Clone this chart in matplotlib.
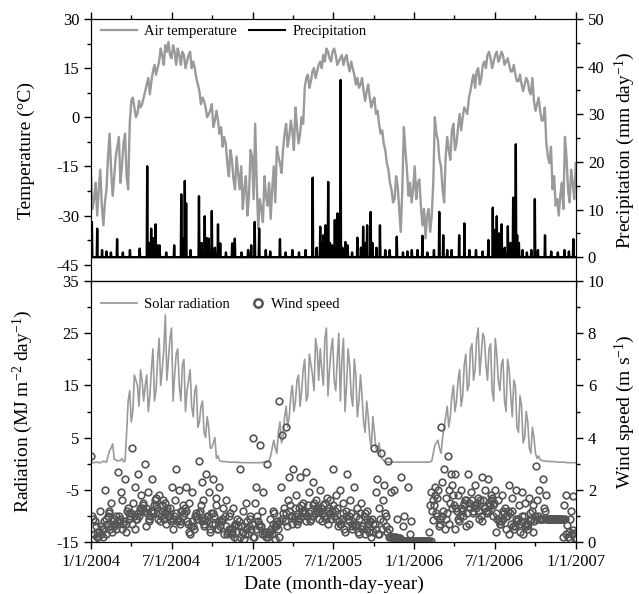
import numpy as np
import matplotlib
matplotlib.use('Agg')
import matplotlib.pyplot as plt
import matplotlib.dates as mdates
from matplotlib.ticker import FuncFormatter
from matplotlib.lines import Line2D

plt.rcParams['font.family'] = 'Liberation Serif'
plt.rcParams['mathtext.default'] = 'regular'
plt.rcParams['axes.unicode_minus'] = False

# ---- data ----
# air temperature (deg C): one reading at the start of each week (week 0 = 1/1/2004)
temp_2004 = [-18, -25, -30, -16, -33, -22, -5, -24, -12, -6, -15, -5, -22,
             5, 3, 1, 3, 6, 10, 7, 14, 13, 17, 19, 22, 23,
             18, 20, 21, 16, 19, 17, 20, 17, 12, 8, 6, 3, 1,
             4, -1, -1, -3, -6, -14, -10, -19, -12, -22, -28, -18, -24, -12]
temp_2005 = [-2, -34, -28, -18, -27, -31, -15, -9, -14, -10, -2, -6, -4,
             3, -8, 0, 9, 13, 11, 15, 14, 17, 19, 21, 18, 20,
             19, 17, 19, 18, 16, 17, 13, 12, 10, 8, 8, 6, 5,
             1, -2, -4, -10, -16, -22, -25, -21, -35, -3, -16]
temp_2006 = [-20, -22, -25, -19, -33, -37, -28, -30, 0, -7,
             -15, -26, -6, -13, -2, -8, 1, 0, 2, 6,
             11, 9, 15, 12, 17, 19, 18, 17, 20, 18,
             19, 17, 16, 14, 13, 11, 10, 10, 11, 7,
             5, 4, 2, -1, -8, -14, -22, -27, -30, -20,
             -6, -22, -16, -25]
# ... and one reading in the middle of each week
temp_mid_2004 = [-28, -20, -22, -27, -26, -12, -16, -18, -9, -20,
                 -8, -18, -2, 6, 0, 5, 4, 8, 12, 11,
                 16, 15, 21, 16, 20, 19, 22, 16, 19, 20,
                 15, 19, 15, 15, 10, 4, 5, 0, 2, -3,
                 2, -5, -9, -8, -18, -13, -22, -17, -15, -22,
                 -30, -10, -25]
temp_mid_2005 = [-20, -25, -32, -24, -20, -22, -26, -12, -17, -5,
                 -9, -1, -10, -3, -5, -2, 12, 9, 14, 12,
                 16, 15, 17, 20, 17, 21, 16, 18, 16, 19,
                 14, 15, 10, 9, 12, 5, 10, 3, 6, 2,
                 -5, -8, -14, -20, -26, -18, -28, -22, -10, -24]
temp_mid_2006 = [-26, -15, -20, -27, -28, -30, -35, -20, -5, -13,
                 -22, -12, -10, -4, -10, -3, -4, 3, 1, 8,
                 13, 14, 10, 16, 15, 20, 15, 19, 17, 20,
                 16, 18, 14, 16, 11, 13, 8, 12, 8, 12,
                 2, 6, -1, 3, -12, -9, -18, -25, -24, -28,
                 -12, -26, -20, -14]

# solar radiation (MJ m-2 day-1), start and middle of each week
rad_2004 = [0.3, 0.2, 0.3, 0.2, 0.5, 0.3, 2.5, 3.8, 0.8, 0.6, 1.0, 0.5,
            12, 8, 17, 15, 18, 12, 17, 13, 22, 14, 24, 18, 28.5, 20, 26, 17,
            22, 12, 20, 14, 18, 9, 15, 8, 12, 5, 7, 3, 5, 1.5, 0.5,
            0.4, 0.4, 0.3, 0.3, 0.3, 0.3, 0.2, 0.2, 0.2, 0.2]
rad_2005 = [0.2, 0.2, 0.2, 0.3, 0.4,
            1.5, 4.5, 2, 8, 5, 11, 9, 15, 12, 17, 14, 20, 13, 19, 14, 22,
            22, 15, 26, 18, 24, 14, 25, 20, 10, 22, 13, 20, 9, 17, 8, 12,
            5, 9, 3, 4, 1, 0.4,
            0.3, 0.3, 0.3, 0.3, 0.3, 0.3, 0.3, 0.3, 0.3, 0.3]
rad_2006 = [0.3, 0.3, 0.3, 0.3,
            0.5, 3.5, 4.5, 2, 7, 11, 9, 15, 12, 18, 13, 21, 15, 23, 18,
            26, 21, 24, 16, 23, 12, 21, 14, 20, 10, 18, 9, 15, 6, 11,
            5, 8, 2, 5, 1, 0.8, 0.6,
            0.5, 0.5, 0.4, 0.4, 0.3, 0.3, 0.3, 0.2, 0.2, 0.2]
rad_mid_2004 = [0.2, 0.3, 0.2, 0.3, 0.4, 1.5, 3.0, 0.8, 0.5, 0.6, 0.4, 6,
                14, 10, 16, 11, 16, 15, 10, 18, 12, 20, 15, 22, 16, 24, 12, 21,
                15, 19, 10, 16, 11, 14, 7, 11, 6, 9, 3, 4, 1, 0.6, 0.4,
                0.4, 0.3, 0.3, 0.3, 0.2, 0.2, 0.2, 0.2, 0.2, 0.2]
rad_mid_2005 = [0.2, 0.2, 0.3, 0.3, 0.6,
                3, 3, 6, 4, 9, 7, 13, 10, 16, 11, 18, 12, 21, 17, 24, 16,
                18, 24, 13, 22, 16, 20, 12, 24, 15, 19, 11, 17, 12, 13, 6, 9,
                3, 6, 2, 1.5, 0.6, 0.3,
                0.3, 0.3, 0.3, 0.3, 0.3, 0.3, 0.3, 0.3, 0.3, 0.3]
rad_mid_2006 = [0.3, 0.3, 0.3, 0.4,
                2, 4, 3, 5, 9, 7, 13, 10, 16, 11, 19, 14, 22, 16, 24,
                17, 25, 19, 22, 14, 24, 16, 19, 12, 20, 13, 16, 7, 13, 4,
                10, 3, 7, 2, 1.5, 0.6, 0.5,
                0.4, 0.4, 0.4, 0.3, 0.3, 0.3, 0.2, 0.2, 0.2, 0.2]

# precipitation events: day since 1/1/2004, mm/day
precip_day = [2, 14, 25, 35, 45, 59, 72, 88, 110, 127, 131, 136, 140, 146, 150,
              155, 170, 188, 204, 208, 212, 215, 225, 244, 250, 257, 262, 266,
              273, 280, 287, 292, 305, 319, 325, 340, 355, 362,
              370, 380, 395, 405, 427, 440, 455, 470, 485, 501, 510, 518, 522,
              525, 530, 536, 540, 545, 551, 557, 560, 564, 568, 575, 580, 590,
              602, 610, 615, 620, 624, 632, 636, 645, 653, 665, 675, 691, 705,
              715, 725,
              738, 749, 760, 775, 787, 796, 805, 815, 832, 844, 855, 870, 885,
              898, 908, 912, 917, 922, 928, 935, 942, 948, 954, 960, 963, 967,
              975, 985, 995, 1003, 1010, 1026, 1040, 1055, 1070, 1080, 1090]
precip_mm = [7.4, 6.0, 1.5, 1.2, 1.0, 3.8, 1.0, 1.5, 1.8, 19.1, 3.0, 6.0, 4.0, 6.9, 2.5,
             2.5, 1.0, 2.5, 13.2, 4.0, 16.0, 11.3, 1.5, 12.8, 3.0, 8.6, 4.0, 3.9,
             9.7, 2.0, 6.9, 2.9, 1.0, 2.9, 3.9, 1.0, 1.5, 2.5,
             7.4, 6.0, 1.5, 1.2, 3.8, 1.0, 1.5, 1.0, 1.5, 16.7, 2.0, 6.4, 3.0,
             4.6, 6.7, 15.8, 3.0, 2.5, 7.8, 9.2, 3.0, 37.2, 2.0, 3.2, 2.5, 1.0,
             4.1, 2.0, 6.4, 3.0, 6.7, 9.5, 3.0, 2.0, 6.7, 1.5, 1.5, 4.3, 1.0,
             1.2, 1.5,
             1.5, 4.5, 1.0, 1.5, 9.5, 4.6, 1.5, 1.5, 4.6, 7.1, 1.5, 1.5, 1.2,
             3.6, 10.4, 5.7, 8.6, 5.0, 6.9, 2.0, 6.5, 3.0, 12.5, 23.7, 4.6, 3.0,
             1.5, 1.0, 1.5, 12.2, 1.5, 4.6, 1.2, 1.0, 1.5, 1.2, 3.8]

# wind speed (m/s): 12 readings per month, Jan..Dec
wind_2004 = [3.3, 0.2, 0.1, 0.3, 0.9, 1.2, 0.6, 0.2, 1.0, 0.4, 0.8, 0.5,
             2.0, 1.5, 1.0, 0.6, 0.3, 0.8, 1.2, 0.5, 0.9, 0.4, 1.1, 0.7,
             2.7, 2.4, 1.9, 1.3, 1.0, 0.7, 0.5, 1.1, 0.8, 0.4, 1.6, 0.9,
             3.6, 2.6, 2.1, 1.8, 1.5, 1.2, 0.9, 1.4, 0.7, 1.0, 0.5, 1.3,
             3.0, 2.4, 1.9, 1.6, 1.3, 1.1, 0.8, 1.4, 0.6, 1.2, 0.9, 1.7,
             1.8, 1.5, 1.2, 1.0, 0.8, 1.3, 1.6, 0.9, 1.1, 0.7, 1.4, 1.0,
             2.1, 2.0, 1.6, 1.2, 0.9, 0.7, 1.1, 1.4, 0.5, 0.8, 2.8, 1.0,
             2.1, 1.9, 1.5, 1.1, 0.8, 0.5, 0.3, 0.9, 1.2, 0.6, 0.4, 1.0,
             3.1, 2.6, 2.3, 1.9, 1.4, 1.0, 0.7, 0.4, 1.2, 0.8, 1.6, 0.5,
             2.4, 2.1, 1.7, 1.3, 1.0, 0.8, 0.5, 0.3, 1.1, 0.6, 1.4, 0.9,
             1.6, 1.3, 1.0, 0.7, 0.4, 0.2, 0.5, 0.9, 0.3, 0.6, 1.1, 0.1,
             2.8, 1.5, 1.2, 0.9, 0.6, 0.3, 0.1, 0.5, 0.2, 0.8, 0.4, 1.0]
wind_2005 = [4.0, 3.7, 2.1, 1.9, 1.5, 1.2, 0.8, 0.4, 0.2, 0.6, 1.0, 0.3,
             3.0, 1.2, 0.9, 0.6, 0.3, 0.1, 0.5, 0.8, 0.2, 1.1, 0.4, 0.7,
             5.4, 4.4, 4.1, 2.5, 2.1, 1.6, 1.3, 1.0, 0.8, 0.6, 1.1, 1.4,
             2.8, 2.5, 1.8, 1.5, 1.3, 1.0, 0.8, 1.2, 0.9, 1.4, 0.7, 1.1,
             2.7, 2.3, 1.9, 1.6, 1.4, 1.1, 0.9, 1.3, 1.0, 1.5, 0.8, 1.2,
             2.0, 1.7, 1.4, 1.1, 0.8, 1.2, 1.5, 0.9, 1.3, 0.7, 1.0, 1.6,
             2.8, 2.0, 1.8, 1.5, 1.2, 0.9, 0.6, 0.4, 1.0, 0.7, 1.3, 0.5,
             2.6, 2.1, 1.6, 1.3, 1.0, 0.7, 0.5, 0.3, 0.9, 0.6, 1.1, 0.4,
             1.5, 1.2, 1.0, 0.8, 0.6, 0.4, 0.3, 0.9, 0.5, 0.7, 1.1, 0.2,
             3.6, 3.4, 2.4, 2.2, 1.9, 1.6, 1.3, 1.0, 0.7, 0.5, 0.3, 1.1,
             3.1, 2.0, 1.9, 0.9, 0.5, 0.2, 0.2, 0.15, 0.2, 0.1, 0.2, 0.15,
             2.5, 2.1, 1.0, 0.8, 0.6, 0.3, 0.05, 0.05, 0.05, 0.05, 0.05, 0.05]
wind_2006 = [0.05, 0.05, 0.05, 0.05, 0.05, 0.05, 0.05, 0.05, 0.05, 0.05, 0.05, 0.05,
             0.05, 2.1, 1.9, 1.7, 1.4, 1.1, 0.85, 0.6, 0.4, 1.8, 1.2, 2.0,
             4.4, 3.3, 2.8, 2.6, 2.3, 2.0, 1.7, 1.3, 1.0, 0.7, 0.5, 2.2,
             2.6, 2.0, 1.8, 1.5, 1.3, 1.0, 0.8, 0.6, 0.5, 1.2, 0.9, 1.6,
             2.6, 2.2, 1.9, 1.7, 1.5, 1.3, 1.1, 0.9, 0.7, 1.4, 1.6, 1.2,
             2.5, 2.4, 2.0, 1.8, 1.6, 1.4, 1.2, 1.0, 0.8, 1.5, 1.3, 1.7,
             2.0, 1.8, 1.6, 1.3, 1.1, 0.9, 0.7, 0.5, 0.4, 1.2, 0.8, 1.0,
             2.2, 2.0, 1.7, 1.4, 1.1, 0.8, 0.6, 0.4, 0.3, 0.9, 1.2, 0.7,
             1.9, 1.7, 1.5, 1.2, 1.0, 0.8, 0.6, 0.4, 0.3, 1.1, 0.7, 1.4,
             2.9, 2.4, 2.0, 1.8, 1.6, 1.3, 0.9, 0.9, 0.9, 0.9, 0.9, 0.9,
             0.9, 0.9, 0.9, 0.9, 0.9, 0.9, 0.9, 0.9, 0.9, 0.9, 0.9, 0.9,
             0.9, 0.9, 1.8, 1.75, 1.4, 1.2, 0.65, 0.35, 0.2, 0.1, 0.3, 0.45]
# the dense core of the wind cloud: 6 more readings per month
wind_core_2004 = [0.3, 0.6, 0.2, 0.8, 0.4, 0.5,  0.7, 0.9, 0.5, 1.0, 0.6, 0.8,
                  0.9, 1.2, 0.7, 1.0, 0.8, 1.1,  1.0, 1.3, 0.9, 1.5, 1.1, 1.2,
                  1.1, 1.4, 1.0, 1.3, 1.2, 0.9,  1.0, 1.2, 0.9, 1.3, 1.1, 0.8,
                  1.0, 1.2, 0.8, 1.1, 0.9, 1.3,  0.7, 1.0, 0.6, 0.9, 0.8, 1.1,
                  0.8, 1.0, 0.6, 1.1, 0.9, 0.7,  0.7, 0.9, 0.5, 1.0, 0.8, 0.6,
                  0.5, 0.7, 0.3, 0.6, 0.4, 0.8,  0.4, 0.6, 0.3, 0.7, 0.5, 0.2]
wind_core_2005 = [0.5, 0.3, 0.7, 0.2, 0.6, 0.4,  0.4, 0.6, 0.3, 0.5, 0.7, 0.2,
                  0.9, 1.2, 0.8, 1.0, 1.1, 0.7,  1.0, 1.2, 0.9, 1.1, 1.3, 0.8,
                  1.1, 1.3, 1.0, 1.2, 1.4, 0.9,  1.1, 1.3, 1.0, 1.2, 0.9, 1.4,
                  0.9, 1.1, 0.8, 1.0, 0.7, 1.2,  0.8, 1.0, 0.6, 0.9, 0.7, 1.1,
                  0.6, 0.8, 0.5, 0.7, 0.9, 0.4,  0.5, 0.8, 0.3, 0.6, 0.9, 0.4,
                  0.2, 0.15, 0.2, 0.1, 0.2, 0.15,  0.05, 0.05, 0.05, 0.05, 0.05, 0.05]
wind_core_2006 = [0.05, 0.05, 0.05, 0.05, 0.05, 0.05,  0.05, 1.0, 1.6, 0.9, 1.4, 0.7,
                  1.2, 1.5, 0.9, 1.8, 1.1, 1.4,  1.2, 1.4, 1.0, 1.6, 1.3, 1.1,
                  1.3, 1.5, 1.2, 1.6, 1.4, 1.0,  1.3, 1.6, 1.1, 1.4, 1.2, 1.5,
                  0.9, 1.1, 0.7, 1.0, 0.8, 1.2,  0.7, 0.9, 0.5, 0.8, 0.6, 1.0,
                  0.6, 0.9, 0.5, 0.8, 0.7, 1.0,  1.0, 1.2, 0.9, 0.9, 0.9, 0.9,
                  0.9, 0.9, 0.9, 0.9, 0.9, 0.9,  0.9, 0.3, 0.2, 0.1, 0.4, 0.15]

# ---- x positions ----
start = np.datetime64('2004-01-01')
end = np.datetime64('2007-01-01')
week = np.timedelta64(7 * 24, 'h')
half_week = np.timedelta64(84, 'h')

temp_start = temp_2004 + temp_2005 + temp_2006
temp_mid = temp_mid_2004 + temp_mid_2005 + temp_mid_2006
rad_start = rad_2004 + rad_2005 + rad_2006
rad_mid = rad_mid_2004 + rad_mid_2005 + rad_mid_2006

wk_x = start + np.arange(len(temp_start)) * week
temp_x = np.column_stack([wk_x, wk_x + half_week]).ravel()
temp = np.column_stack([temp_start, temp_mid]).ravel()
rad_x = temp_x
rad = np.column_stack([rad_start, rad_mid]).ravel()

n_days = int((end - start) / np.timedelta64(1, 'D'))
precip = np.zeros(n_days)
precip[precip_day] = precip_mm
precip_x = start + np.arange(n_days) * np.timedelta64(1, 'D')

wind_main = wind_2004 + wind_2005 + wind_2006
wind_core = wind_core_2004 + wind_core_2005 + wind_core_2006
slot_order = [0, 9, 4, 13, 2, 11, 6, 15, 1, 10, 5, 14, 3, 12, 7, 16, 8, 17]
wind_x, wind = [], []
k = 0
for y in (2004, 2005, 2006):
    for m in range(1, 13):
        m0 = np.datetime64('%d-%02d-01' % (y, m))
        m1 = np.datetime64('%d-%02d-01' % (y + (m == 12), m % 12 + 1))
        hours = (m1 - m0) / np.timedelta64(1, 'h')
        vals = wind_main[12 * k:12 * k + 12] + wind_core[6 * k:6 * k + 6]
        for v, s in zip(vals, slot_order):
            wind_x.append(m0 + np.timedelta64(int((s + 0.5) * hours / 18), 'h'))
            wind.append(v)
        k += 1
wind_x = np.array(wind_x)

# ---- figure ----
fig = plt.figure(figsize=(6.39, 5.94), dpi=100)
ax1 = fig.add_axes([0.1424, 0.5269, 0.759, 0.4411])
ax3 = fig.add_axes([0.1424, 0.0875, 0.759, 0.4394], sharex=ax1)
ax2 = ax1.twinx()
ax4 = ax3.twinx()

grey = '#9a9a9a'
ax1.plot(temp_x, temp, color=grey, lw=1.7)
ax2.plot(precip_x, precip, color='black', lw=1.7)
ax3.plot(rad_x, rad, color=grey, lw=1.2)
ax4.plot(wind_x, wind, 'o', mfc='none', mec='#555555', mew=1.2, ms=4.8)

ax1.set_xlim(start, end)
ax1.set_ylim(-50, 30)
ax1.set_yticks([-45, -30, -15, 0, 15, 30])
ax1.set_yticks([-37.5, -22.5, -7.5, 7.5, 22.5], minor=True)
ax2.set_ylim(-5, 50)
ax2.set_yticks([0, 10, 20, 30, 40, 50])
ax2.set_yticks([5, 15, 25, 35, 45], minor=True)
ax3.set_ylim(-15, 35)
ax3.set_yticks([-15, -5, 5, 15, 25, 35])
ax3.set_yticks([-10, 0, 10, 20, 30], minor=True)
ax4.set_ylim(0, 10)
ax4.set_yticks([0, 2, 4, 6, 8, 10])
ax4.set_yticks([1, 3, 5, 7, 9], minor=True)

ax3.xaxis.set_major_locator(mdates.MonthLocator(bymonth=[1, 7]))
ax3.xaxis.set_minor_locator(mdates.MonthLocator(bymonth=[4, 10]))


def date_fmt(v, pos):
    d = mdates.num2date(v)
    return '%d/%d/%d' % (d.month, d.day, d.year)


ax3.xaxis.set_major_formatter(FuncFormatter(date_fmt))

for ax in (ax1, ax2, ax3, ax4):
    ax.tick_params(which='both', direction='out', labelsize=12, width=1)
    ax.tick_params(which='major', length=5)
    ax.tick_params(which='minor', length=3)
ax1.tick_params(axis='x', which='both', top=True, bottom=True, labelbottom=False)

ax1.set_ylabel('Temperature (°C)', fontsize=14)
ax2.set_ylabel('Precipitation (mm day$^{-1}$)', fontsize=14)
ax3.set_ylabel('Radiation (MJ m$^{-2}$ day$^{-1}$)', fontsize=14)
ax4.set_ylabel('Wind speed (m s$^{-1}$)', fontsize=14)
ax3.set_xlabel('Date (month-day-year)', fontsize=14)
ax1.yaxis.set_label_coords(-0.115, 0.5)
ax3.yaxis.set_label_coords(-0.115, 0.5)
ax2.yaxis.set_label_coords(1.076, 0.5)
ax4.yaxis.set_label_coords(1.076, 0.5)

h_temp = Line2D([], [], color=grey, lw=1.6)
h_prec = Line2D([], [], color='black', lw=1.5)
ax2.legend([h_temp, h_prec], ['Air temperature', 'Precipitation'], loc='upper left',
           bbox_to_anchor=(0.02, 0.979), ncol=2, frameon=False, fontsize=10.5,
           borderpad=0, borderaxespad=0, handlelength=2.5, handletextpad=0.5,
           columnspacing=0.8)

h_rad = Line2D([], [], color=grey, lw=1.3)
h_wind = Line2D([], [], ls='none', marker='o', mfc='none', mec='#555555', mew=1.8, ms=6)
leg = ax4.legend([h_rad], ['Solar radiation'], loc='upper left',
                 bbox_to_anchor=(0.02, 0.937), frameon=False, fontsize=10.5,
                 borderpad=0, borderaxespad=0, handlelength=2.5, handletextpad=0.5)
ax4.add_artist(leg)
ax4.legend([h_wind], ['Wind speed'], loc='upper left',
           bbox_to_anchor=(0.329, 0.937), frameon=False, fontsize=10.5,
           borderpad=0, borderaxespad=0, handlelength=1.0, handletextpad=0.4)

fig.savefig('out.png', dpi=100)
